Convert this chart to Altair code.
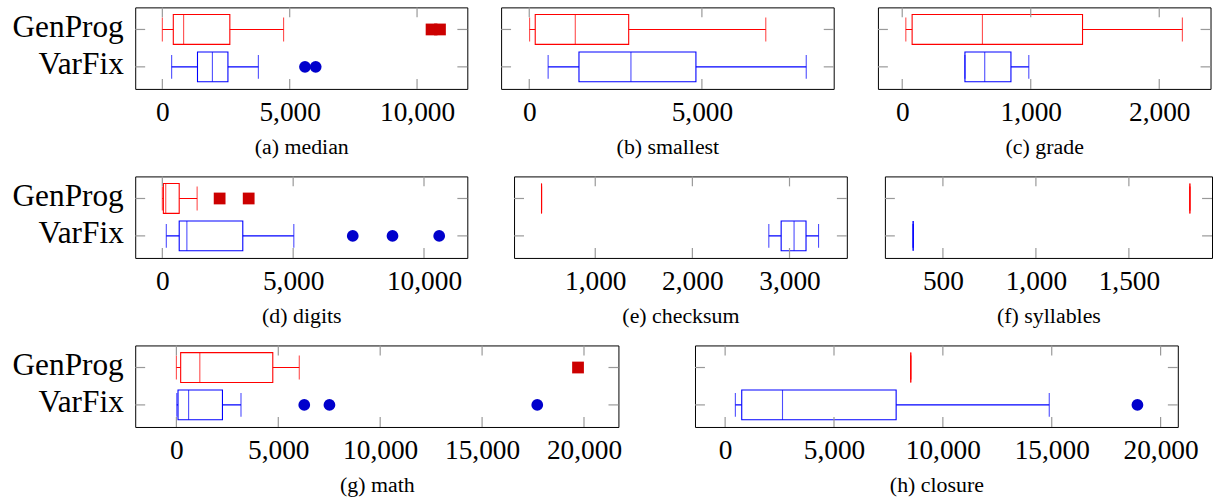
import altair as alt
import pandas as pd

# ---------------- data ----------------
captions = ["(a) median", "(b) smallest", "(c) grade", "(d) digits",
            "(e) checksum", "(f) syllables", "(g) math", "(h) closure"]
groups = ["GenProg", "VarFix"]

gp_low = [0, 10, 28, 0, 447, 1828, 0, 8525]
gp_q1 = [430, 173, 77, 40, 447, 1828, 210, 8525]
gp_med = [835, 1333, 624, 130, 447, 1828, 1150, 8525]
gp_q3 = [2650, 2880, 1403, 645, 447, 1828, 4730, 8525]
gp_high = [4760, 6850, 2180, 1330, 447, 1828, 6030, 8525]
gp_out = [[10570, 10900], [], [], [2190, 3300], [], [], [19707], []]

vf_low = [365, 547, 488, 152, 2787, 340, 20, 470]
vf_q1 = [1380, 1440, 488, 645, 2914, 340, 80, 763]
vf_med = [1965, 2945, 642, 938, 3047, 340, 600, 2635]
vf_q3 = [2575, 4827, 846, 3075, 3170, 340, 2260, 7854]
vf_high = [3770, 8022, 985, 5025, 3299, 340, 3170, 14886]
vf_out = [[5600, 6020], [], [], [7277, 8796, 10581], [], [], [6275, 7510, 17707], [18935]]

x_min = [-1065, -815, -189, -1036, 164, 188, -2020, -1384]
x_max = [11973, 8817, 2399, 11655, 3590, 1947, 21690, 20790]
tick_vals = [[0, 5000, 10000], [0, 5000], [0, 1000, 2000], [0, 5000, 10000],
             [1000, 2000, 3000], [500, 1000, 1500],
             [0, 5000, 10000, 15000, 20000], [0, 5000, 10000, 15000, 20000]]

# ---------------- layout / style ----------------
widths = [334, 334.5, 334.5, 334, 334.7, 329, 486, 485.6]
gaps = [135, 31.5, 42, 135, 43.7, 35.6, 134, 72]
H = 82
FONT = "Liberation Serif"
line_cols = ["#ff0000", "#0000ff"]
out_cols = ["#cc0000", "#0000cc"]


def panel(i):
    W = widths[i]
    stats = pd.DataFrame({
        "group": groups,
        "low": [gp_low[i], vf_low[i]],
        "q1": [gp_q1[i], vf_q1[i]],
        "med": [gp_med[i], vf_med[i]],
        "q3": [gp_q3[i], vf_q3[i]],
        "high": [gp_high[i], vf_high[i]],
    })
    outl = pd.DataFrame({
        "group": ["GenProg"] * len(gp_out[i]) + ["VarFix"] * len(vf_out[i]),
        "value": [float(v) for v in gp_out[i] + vf_out[i]],
    })
    ticks = pd.DataFrame({"t": tick_vals[i]})
    cats = pd.DataFrame({"group": groups})

    xs = alt.Scale(domain=[x_min[i], x_max[i]], nice=False, zero=False)
    ys = alt.Scale(type="point", domain=groups, padding=0.59)
    xaxis = alt.Axis(values=tick_vals[i], format=",d", ticks=False, domain=False,
                     grid=False, labelPadding=9.5, labelFontSize=27.5, labelFont=FONT,
                     labelFlush=False, labelOverlap=False, labelColor="black",
                     title=captions[i], titleFontSize=22, titleFont=FONT,
                     titleFontWeight="normal", titleBaseline="alphabetic",
                     titlePadding=29, titleColor="black", minExtent=36, maxExtent=36)
    first = i in (0, 3, 6)
    yaxis = alt.Axis(labels=first, ticks=False, domain=False, grid=False,
                     labelPadding=12, labelFontSize=31.5, labelFont=FONT,
                     labelColor="black", labelBaseline="alphabetic", labelOffset=7,
                     minExtent=gaps[i], maxExtent=gaps[i], title=None)
    y = alt.Y("group:N", scale=ys, axis=yaxis)
    col = alt.Color("group:N", scale=alt.Scale(domain=groups, range=line_cols), legend=None)
    strk = alt.Stroke("group:N", scale=alt.Scale(domain=groups, range=line_cols), legend=None)
    X = lambda f: alt.X(f, scale=xs, axis=xaxis)

    base = alt.Chart(stats)
    whisk = base.mark_rule(strokeWidth=1.1).encode(
        x=X("low:Q"), x2="high:Q", y=y, color=col)
    box = base.mark_bar(size=30, fill="white", strokeWidth=1.1).encode(
        x=X("q1:Q"), x2="q3:Q", y=y, stroke=strk)
    med = base.mark_tick(size=30, thickness=1.1).encode(
        x=X("med:Q"), y=y, color=col)
    cap_lo = base.mark_tick(size=24, thickness=1.1).encode(
        x=X("low:Q"), y=y, color=col)
    cap_hi = base.mark_tick(size=24, thickness=1.1).encode(
        x=X("high:Q"), y=y, color=col)
    pts = alt.Chart(outl).mark_point(filled=True, size=140, opacity=1).encode(
        x=X("value:Q"), y=y,
        fill=alt.Fill("group:N", scale=alt.Scale(domain=groups, range=out_cols), legend=None),
        shape=alt.Shape("group:N", scale=alt.Scale(domain=groups, range=["square", "circle"]), legend=None))

    tk = dict(color="#999999", strokeWidth=1.2)
    t_top = alt.Chart(ticks).mark_rule(**tk).encode(
        x=X("t:Q"), y=alt.value(0), y2=alt.value(10))
    t_bot = alt.Chart(ticks).mark_rule(**tk).encode(
        x=X("t:Q"), y=alt.value(H - 10), y2=alt.value(H))
    t_l = alt.Chart(cats).mark_rule(**tk).encode(
        y=y, x=alt.value(0), x2=alt.value(10))
    t_r = alt.Chart(cats).mark_rule(**tk).encode(
        y=y, x=alt.value(W - 10), x2=alt.value(W))

    return alt.layer(whisk, box, med, cap_lo, cap_hi, pts, t_top, t_bot, t_l, t_r).properties(
        width=W, height=H)


rows = [
    alt.hconcat(panel(0), panel(1), panel(2), spacing=0),
    alt.hconcat(panel(3), panel(4), panel(5), spacing=0),
    alt.hconcat(panel(6), panel(7), spacing=0),
]

chart = alt.vconcat(*rows, spacing=16).properties(
    padding={"left": 0, "top": 4, "right": 0, "bottom": 0},
    background="white",
).configure_view(stroke="black", strokeWidth=1).configure_axis(
    labelFont=FONT, titleFont=FONT, labelColor="black", titleColor="black"
).resolve_scale(
    x="independent", y="independent", color="independent",
    stroke="independent", fill="independent", shape="independent")

chart.save("out.html", embed_options={"renderer": "svg", "actions": False})
